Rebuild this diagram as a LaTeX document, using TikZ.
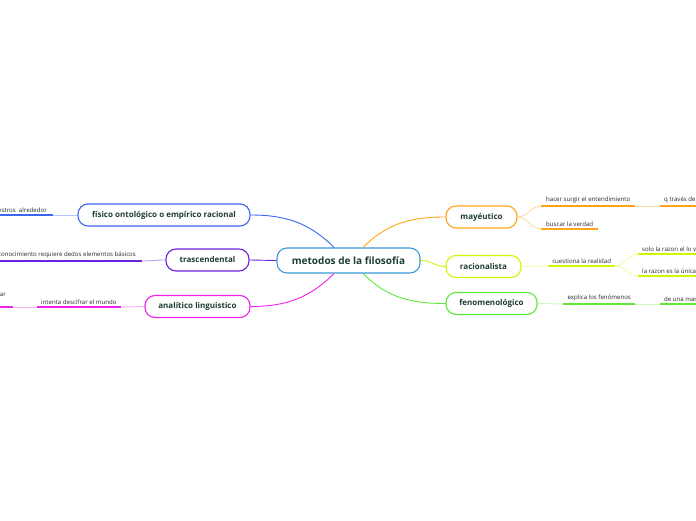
\documentclass[tikz,border=0pt]{standalone}
\usepackage{fontspec}
\setmainfont{Open Sans}
\usetikzlibrary{positioning,calc}

\definecolor{lbl}{HTML}{1C3D30}
\definecolor{rootB}{HTML}{3C9AD8}
\definecolor{blB}{HTML}{3A66F0}
\definecolor{blL}{HTML}{B5C5FF}
\definecolor{puB}{HTML}{6B22E0}
\definecolor{puL}{HTML}{BEA0F4}
\definecolor{mgB}{HTML}{F020E8}
\definecolor{mgL}{HTML}{F9B0F4}
\definecolor{orB}{HTML}{FFA31A}
\definecolor{orL}{HTML}{FFDAA3}
\definecolor{ygB}{HTML}{D4F500}
\definecolor{ygL}{HTML}{EFFFA6}
\definecolor{grB}{HTML}{5DE83A}
\definecolor{grL}{HTML}{CCF8C0}

\begin{document}
\begin{tikzpicture}[x=1pt, y=1pt,
    topic/.style={rectangle, draw=#1, fill=white, line width=1.1pt, rounded corners=10pt, minimum height=22pt, inner sep=0pt, font=\fontsize{8}{9}\selectfont\bfseries, text=lbl},
    rootbox/.style={topic=rootB, minimum height=25pt, minimum width=143pt, font=\fontsize{10}{12}\selectfont\bfseries},
    leaf/.style={font=\fontsize{6.1}{7.3}\selectfont, text=black!85, inner xsep=4pt, inner ysep=2.5pt},
    conn/.style={line width=0.9pt, draw=#1},
    ul/.style={line width=1.9pt, draw=#1, line cap=butt}
]
\useasboundingbox (0,0) rectangle (696,520);
\clip (0,0) rectangle (696,520);

% --- central topic ---
\node[rootbox] (root) at (348.5,259.5) {metodos de la filosofía};

% --- left side ---
\node[topic=blB, minimum width=172pt] (fis) at (164,305) {físico ontológico o empírico racional};
\node[topic=puB, minimum width=83pt] (tras) at (207.5,260) {trascendental};
\node[topic=mgB, minimum width=105pt] (ana) at (197.5,213.5) {analítico linguistico};

\node[leaf, anchor=south east, inner xsep=6pt] (fis1) at (53,305) {estros\ \ alrededor};
\node[leaf, anchor=south east, inner xsep=6pt] (tras1) at (142,259) {conocimiento requiere dedos elementos básicos};
\node[leaf, anchor=south west, minimum width=83pt] (ana1) at (37,213) {intenta descifrar el mundo};
\node[leaf, anchor=south east, inner xsep=7pt, inner ysep=3.5pt, align=center] (ana2) at (13,213) {ar\\\mbox{}};

% --- right side ---
\node[topic=orB, minimum width=71pt] (may) at (481.5,303) {mayéutico};
\node[topic=ygB, minimum width=75pt] (rac) at (483.5,253.5) {racionalista};
\node[topic=grB, minimum width=91pt] (fen) at (491.5,216.5) {fenomenológico};

\node[leaf, anchor=south west, minimum width=94pt] (may1) at (541,314) {hacer surgir el entendimiento};
\node[leaf, anchor=south west, minimum width=57pt] (may2) at (541,291) {buscar la verdad};
\node[leaf, anchor=south west] (may3) at (660,314) {q través del};
\node[leaf, anchor=south west, minimum width=67pt] (rac1) at (548,254) {cuestiona la realidad};
\node[leaf, anchor=south west] (rac2) at (638,266) {solo la razon el lo v};
\node[leaf, anchor=south west] (rac3) at (638,244) {la razon es la única};
\node[leaf, anchor=south west, minimum width=72pt] (fen1) at (563,216) {explica los fenómenos};
\node[leaf, anchor=south west] (fen2) at (660,216) {de una man};

% --- main connectors ---
\draw[conn=blB] (fis.east) to[out=0, in=135] (root.138);
\draw[conn=puB] (tras.east) -- (root.west);
\draw[conn=mgB] (ana.east) to[out=0, in=225] (root.222);
\draw[conn=orB] (may.west) to[out=180, in=45] (root.42);
\draw[conn=ygB] (rac.west) to[out=180, in=0] (root.east);
\draw[conn=grB] (fen.west) to[out=180, in=315] (root.318);

% --- leaf connectors ---
\draw[conn=blL] (fis.west) -- (fis1.south east);
\draw[conn=puL] (tras.west) to[out=180, in=0] (tras1.south east);
\draw[conn=mgL] (ana.west) -- (ana1.south east);
\draw[conn=mgL] (ana1.south west) -- (ana2.south east);
\draw[conn=orL] (may.east) to[out=0, in=180] (may1.south west);
\draw[conn=orL] (may.east) to[out=0, in=180] (may2.south west);
\draw[conn=orL] (may1.south east) -- (may3.south west);
\draw[conn=ygL] (rac.east) to[out=0, in=180] (rac1.south west);
\draw[conn=ygL] (rac1.south east) to[out=0, in=180] (rac2.south west);
\draw[conn=ygL] (rac1.south east) to[out=0, in=180] (rac3.south west);
\draw[conn=grL] (fen.east) -- (fen1.south west);
\draw[conn=grL] (fen1.south east) -- (fen2.south west);

% --- underlines ---
\foreach \n/\c in {fis1/blB, tras1/puB, ana1/mgB, ana2/mgB, may1/orB, may2/orB, may3/orB, rac1/ygB, rac2/ygB, rac3/ygB, fen1/grB, fen2/grB}
  \draw[ul=\c] (\n.south west) -- (\n.south east);
\end{tikzpicture}
\end{document}
